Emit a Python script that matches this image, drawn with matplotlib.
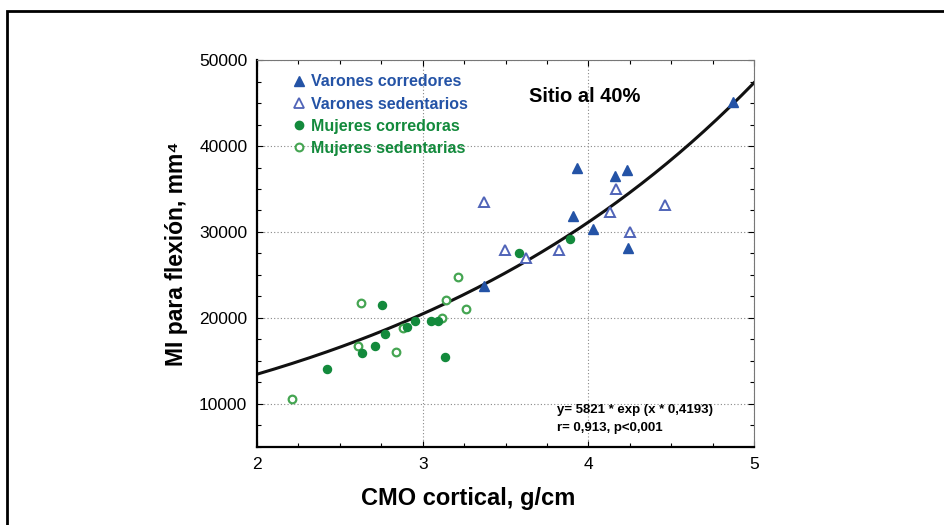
import numpy as np
import matplotlib.pyplot as plt
from matplotlib.patches import Rectangle
from matplotlib.lines import Line2D
from matplotlib.ticker import MultipleLocator

plt.rcParams['font.family'] = ['Liberation Sans', 'DejaVu Sans']

# Varones corredores (filled triangles)
vc_x = [3.37, 3.906, 3.93, 4.03, 4.16, 4.231, 4.237, 4.87]
vc_y = [23750, 31860, 37400, 30300, 36550, 37200, 28100, 45080]

# Varones sedentarios (open triangles)
vs_x = [3.367, 3.498, 3.625, 3.821, 4.131, 4.169, 4.251, 4.464]
vs_y = [33520, 27900, 26950, 27900, 32360, 35000, 29970, 33140]

# Mujeres corredoras (filled circles)
mc_x = [2.424, 2.634, 2.709, 2.757, 2.771, 2.905, 2.952, 3.052, 3.092, 3.137, 3.58, 3.886]
mc_y = [14070, 15900, 16780, 21550, 18140, 19000, 19650, 19690, 19690, 15430, 27590, 29190]

# Mujeres sedentarias (open circles)
ms_x = [2.209, 2.61, 2.625, 2.837, 2.881, 3.116, 3.14, 3.213, 3.261]
ms_y = [10620, 16780, 21780, 16050, 18800, 20030, 22090, 24730, 21010]

# ajuste exponencial
a_fit = 5821
b_fit = 0.4193

blue = '#2453a6'
blue_open = '#5064b8'
green = '#138a3c'
green_open = '#45a552'

fig = plt.figure(figsize=(9.45, 5.25), dpi=100)
ax = fig.add_axes([0.272, 0.1486, 0.526, 0.7371])

ax.set_xlim(2, 5)
ax.set_ylim(5000, 50000)
ax.xaxis.set_major_locator(MultipleLocator(1))
ax.xaxis.set_minor_locator(MultipleLocator(0.25))
ax.yaxis.set_major_locator(MultipleLocator(10000))
ax.yaxis.set_minor_locator(MultipleLocator(2500))
ax.tick_params(which='both', direction='in', top=True, right=True, length=4,
               width=0.8, labelsize=12.5, pad=7)
ax.tick_params(which='minor', length=3)
ax.set_yticks([10000, 20000, 30000, 40000, 50000])

for s in ['left', 'bottom']:
    ax.spines[s].set_linewidth(1.6)
    ax.spines[s].set_color('black')
for s in ['top', 'right']:
    ax.spines[s].set_linewidth(0.8)
    ax.spines[s].set_color('#777777')

ax.grid(True, which='major', color='#888888', linestyle=(0, (1, 2)), linewidth=0.8)

xx = np.linspace(2, 5, 200)
ax.plot(xx, a_fit * np.exp(xx * b_fit), color='#111111', lw=2.2, zorder=2)

ax.plot(ms_x, ms_y, 'o', ms=5.5, mfc='white', mec=green_open, mew=1.6, zorder=3)
ax.plot(mc_x, mc_y, 'o', ms=5.8, color=green, zorder=3)
ax.plot(vs_x, vs_y, '^', ms=6.8, mfc='white', mec=blue_open, mew=1.4, zorder=3)
ax.plot(vc_x, vc_y, '^', ms=6.8, color=blue, zorder=3)

ax.set_xlabel('CMO cortical, g/cm', fontsize=17, fontweight='bold')
ax.xaxis.set_label_coords(0.4245, -0.103)
ax.set_ylabel('MI para flexión, mm⁴', fontsize=16.5, fontweight='bold')
ax.yaxis.set_label_coords(-0.139, 0.5)

ax.text(3.64, 45700, 'Sitio al 40%', fontsize=14.5, fontweight='bold', va='center')
ax.text(3.81, 9300, 'y= 5821 * exp (x * 0,4193)', fontsize=9.5, fontweight='bold', va='center')
ax.text(3.81, 7200, 'r= 0,913, p<0,001', fontsize=9.5, fontweight='bold', va='center')

handles = [
    Line2D([], [], marker='^', ls='', ms=7, color=blue),
    Line2D([], [], marker='^', ls='', ms=7, mfc='white', mec=blue_open, mew=1.3),
    Line2D([], [], marker='o', ls='', ms=6, color=green),
    Line2D([], [], marker='o', ls='', ms=5.6, mfc='white', mec=green_open, mew=1.5),
]
labels = ['Varones corredores', 'Varones sedentarios', 'Mujeres corredoras', 'Mujeres sedentarias']
leg = ax.legend(handles, labels, loc='upper left', bbox_to_anchor=(0.045, 1.0), frameon=False,
                handlelength=0.7, handletextpad=0.4, labelspacing=0.45,
                prop={'weight': 'bold', 'size': 11.5})
for t, c in zip(leg.get_texts(), [blue, blue, green, green]):
    t.set_color(c)

# marco exterior
fig.patches.append(Rectangle((7 / 945, -0.05), 1.1, 1 - 11 / 525 + 0.05, transform=fig.transFigure,
                             fill=False, edgecolor='black', lw=2))

fig.savefig('out.png', dpi=100)
